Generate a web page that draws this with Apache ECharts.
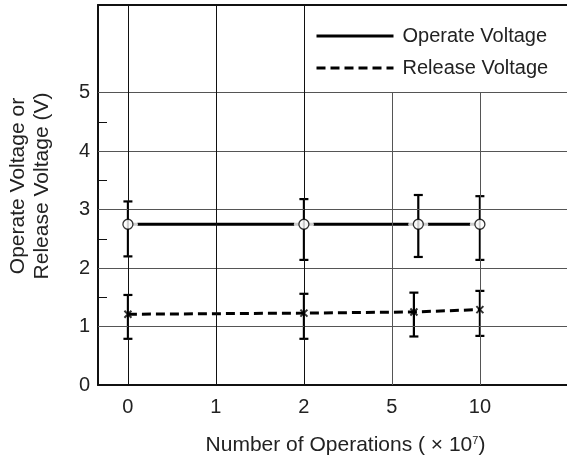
<!DOCTYPE html>
<html>
<head>
<meta charset="utf-8">
<script src="https://cdn.jsdelivr.net/npm/echarts@6/dist/echarts.min.js"></script>
<style>html,body{margin:0;padding:0;background:#fff}#c{width:567px;height:462px}</style>
</head>
<body>
<div id="c"></div>
<script>
// Category positions on the x axis (equally spaced) and their tick labels
const xTickPos = [0, 1, 2, 3, 4];
const xTickLabels = ['0', '1', '2', '5', '10'];
const yTickLabels = [0, 1, 2, 3, 4, 5];
const yMinorTicks = [1.5, 2.5, 3.5, 4.5];
const hGrid = [1, 2, 3, 4, 5];
const vGridTop = [6.5, 6.5, 6.5, 5, 5];

// Operate voltage (circles)
const opX = [0, 2, 3.3, 4];
const opV = [2.75, 2.75, 2.75, 2.75];
const opHi = [3.14, 3.18, 3.25, 3.23];
const opLo = [2.20, 2.14, 2.19, 2.14];

// Release voltage (crosses)
const relX = [0, 2, 3.25, 4];
const relV = [1.21, 1.23, 1.25, 1.29];
const relHi = [1.54, 1.56, 1.58, 1.61];
const relLo = [0.79, 0.79, 0.83, 0.84];

const FONT = 'Liberation Sans';
const TXT = '#222';

const chart = echarts.init(document.getElementById('c'));

function errBar(params, api) {
  const x = api.value(0), lo = api.value(1), hi = api.value(2);
  const a = api.coord([x, lo]), b = api.coord([x, hi]);
  const w = 4.5;
  const st = { stroke: '#000', lineWidth: 2.2 };
  return {
    type: 'group',
    children: [
      { type: 'line', shape: { x1: a[0], y1: a[1], x2: b[0], y2: b[1] }, style: st },
      { type: 'line', shape: { x1: a[0] - w, y1: a[1], x2: a[0] + w, y2: a[1] }, style: st },
      { type: 'line', shape: { x1: b[0] - w, y1: b[1], x2: b[0] + w, y2: b[1] }, style: st }
    ]
  };
}

const gridLines = [];
hGrid.forEach(v => gridLines.push({ yAxis: v, lineStyle: { color: '#555', width: 1 } }));
xTickPos.forEach((x, i) => gridLines.push([
  { coord: [x, 0], lineStyle: { color: i < 3 ? '#111' : '#555', width: 1 } },
  { coord: [x, vGridTop[i]] }
]));

chart.setOption({
  animation: false,
  textStyle: { fontFamily: FONT },
  grid: { left: 98, right: 0, top: 5, bottom: 77, outerBoundsMode: 'none', containLabel: false },
  legend: {
    orient: 'vertical', left: 310, top: 21,
    itemWidth: 77, itemHeight: 14, itemGap: 12,
    itemStyle: { opacity: 0 },
    lineStyle: { width: 3 },
    textStyle: { fontSize: 20, color: TXT, fontFamily: FONT, padding: [0, 0, 0, 4] },
    data: ['Operate Voltage', 'Release Voltage']
  },
  xAxis: [{
    type: 'value', min: -0.34, max: 4.99,
    axisLine: { onZero: false, lineStyle: { color: '#111', width: 2 } },
    axisTick: { show: false },
    splitLine: { show: false },
    axisLabel: {
      customValues: xTickPos, fontSize: 20, color: TXT, margin: 12,
      formatter: v => xTickLabels[Math.round(v)]
    },
    name: '{a|Number of Operations ( × 10}{s|7}{a|)}',
    nameLocation: 'middle', nameGap: 50,
    nameTextStyle: {
      padding: [0, 0, 0, 26],
      rich: {
        a: { fontSize: 21, color: TXT, fontFamily: FONT },
        s: { fontSize: 11, color: TXT, fontFamily: FONT, verticalAlign: 'top', padding: [0, 0, 10, 0] }
      }
    }
  }, {
    type: 'value', min: -0.34, max: 4.99, position: 'top',
    axisLine: { show: true, onZero: false, lineStyle: { color: '#111', width: 2 } },
    axisTick: { show: false }, axisLabel: { show: false }, splitLine: { show: false }
  }],
  yAxis: {
    type: 'value', min: 0, max: 6.5,
    axisLine: { show: true, onZero: false, lineStyle: { color: '#111', width: 2 } },
    axisTick: { show: true, inside: true, length: 9, customValues: yMinorTicks, lineStyle: { color: '#111', width: 1 } },
    splitLine: { show: false },
    axisLabel: { customValues: yTickLabels, fontSize: 20, color: TXT, margin: 8 },
    name: 'Operate Voltage or\nRelease Voltage (V)',
    nameLocation: 'middle', nameGap: 44, nameRotate: 90,
    nameTextStyle: { fontSize: 21, lineHeight: 24, color: TXT, fontFamily: FONT, padding: [0, 0, 0, 18] }
  },
  series: [
    {
      type: 'line', data: [], silent: true, z: 1,
      markLine: { silent: true, symbol: ['none', 'none'], label: { show: false }, lineStyle: { type: 'solid' }, data: gridLines }
    },
    {
      name: 'Operate Voltage', type: 'line', symbol: 'none', z: 2,
      lineStyle: { color: '#000', width: 3, type: 'solid' },
      itemStyle: { color: '#000' },
      data: opX.map((x, i) => [x, opV[i]])
    },
    {
      name: 'Release Voltage', type: 'line', symbol: 'none', z: 2,
      lineStyle: { color: '#000', width: 3, type: [9, 5] },
      itemStyle: { color: '#000' },
      data: relX.map((x, i) => [x, relV[i]])
    },
    {
      type: 'scatter', z: 3, silent: true, symbol: 'circle', symbolSize: 20,
      itemStyle: { color: '#fff' },
      data: opX.map((x, i) => [x, opV[i]])
    },
    {
      type: 'custom', z: 4, silent: true, renderItem: errBar,
      data: opX.map((x, i) => [x, opLo[i], opHi[i]])
    },
    {
      type: 'custom', z: 4, silent: true, renderItem: errBar,
      data: relX.map((x, i) => [x, relLo[i], relHi[i]])
    },
    {
      type: 'scatter', z: 5, silent: true, symbol: 'circle', symbolSize: 10,
      itemStyle: { color: '#fff', borderColor: '#000', borderWidth: 1.3 },
      data: opX.map((x, i) => [x, opV[i]])
    },
    {
      type: 'scatter', z: 5, silent: true, symbol: 'path://M0,0L10,10M10,0L0,10', symbolSize: 7,
      itemStyle: { color: 'none', borderColor: '#000', borderWidth: 2 },
      data: relX.map((x, i) => [x, relV[i]])
    }
  ]
});
</script>
</body>
</html>
